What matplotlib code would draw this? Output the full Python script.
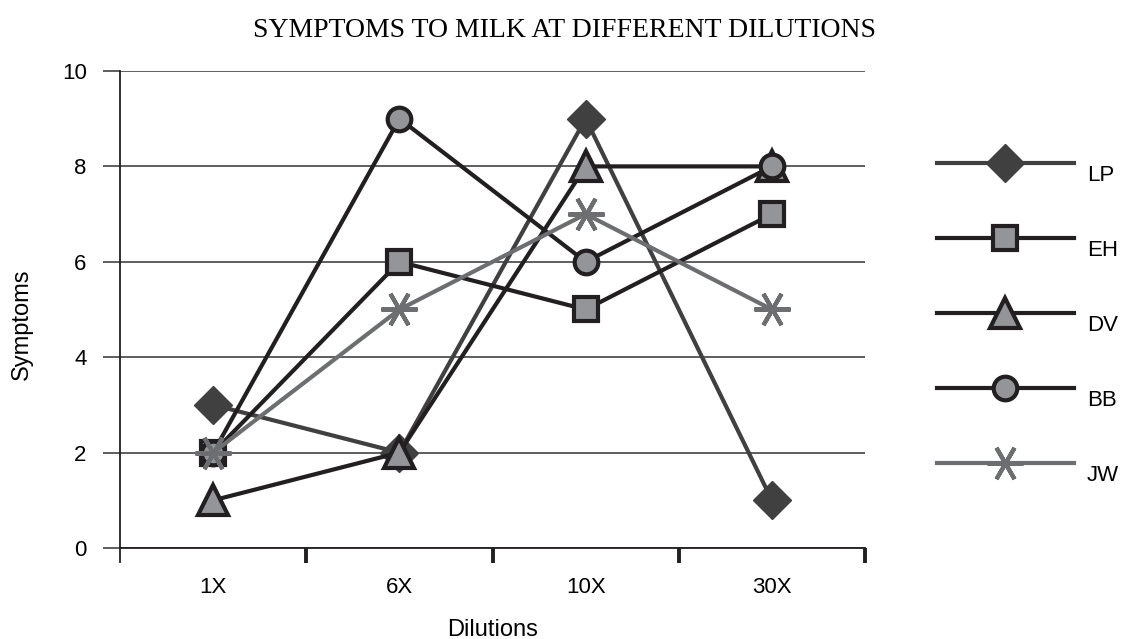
import numpy as np
import matplotlib.pyplot as plt
from matplotlib.ticker import FixedLocator, NullFormatter
from matplotlib.legend_handler import HandlerLine2D

DILUTIONS = ['1X', '6X', '10X', '30X']
LP = [3, 2, 9, 1]
EH = [2, 6, 5, 7]
DV = [1, 2, 8, 8]
BB = [2, 9, 6, 8]
JW = [2, 5, 7, 5]

DARK = '#231f20'
FILL = '#939598'

plt.rcParams['font.family'] = ['Liberation Sans', 'DejaVu Sans']


class RaisedLine(HandlerLine2D):
    # Excel-like legend: sample line sits a little above the label text
    def create_artists(self, legend, orig_handle, xdescent, ydescent,
                       width, height, fontsize, trans):
        return super().create_artists(legend, orig_handle, xdescent,
                                      ydescent - 14, width, height,
                                      fontsize, trans)


fig = plt.figure(figsize=(11.22, 6.39), dpi=100)
ax = fig.add_axes([0.107, 0.1424, 0.664, 0.7465])

x = np.arange(len(DILUTIONS))
ax.plot(x, LP, color='#404041', lw=3, marker='D', ms=19,
        mfc='#404041', mec='#404041', mew=1, label='LP', zorder=3)
ax.plot(x, EH, color=DARK, lw=3, marker='s', ms=17,
        mfc=FILL, mec=DARK, mew=3, label='EH', zorder=3)
ax.plot(x, DV, color=DARK, lw=3, marker='^', ms=22,
        mfc=FILL, mec=DARK, mew=3, label='DV', zorder=3)
ax.plot(x, BB, color=DARK, lw=3, marker='o', ms=17,
        mfc=FILL, mec=DARK, mew=3, label='BB', zorder=3)
ax.plot(x, JW, color='#6d6e71', lw=3, marker=(6, 2, 90), ms=26,
        mfc='#6d6e71', mec='#6d6e71', mew=3, label='JW', zorder=3)

ax.set_xlim(-0.5, 3.5)
ax.set_ylim(0, 10)
ax.set_yticks([0, 2, 4, 6, 8, 10])
ax.grid(axis='y', color='#333333', lw=1.1)
ax.set_axisbelow(True)

for s in ['top', 'right']:
    ax.spines[s].set_visible(False)
ax.spines['left'].set_bounds(-0.3, 10)
ax.spines['left'].set_color(DARK)
ax.spines['left'].set_linewidth(1.3)
ax.spines['bottom'].set_color(DARK)
ax.spines['bottom'].set_linewidth(1.3)

# category boundaries as major ticks, category names on minor ticks
ax.xaxis.set_major_locator(FixedLocator([-0.5, 0.5, 1.5, 2.5, 3.5]))
ax.xaxis.set_major_formatter(NullFormatter())
ax.xaxis.set_minor_locator(FixedLocator(x))
ax.set_xticklabels(DILUTIONS, minor=True)
ax.tick_params(axis='x', which='major', direction='out', length=11,
               width=2.8, color=DARK)
ax.tick_params(axis='x', which='minor', length=0, pad=21, labelsize=16)
ax.xaxis.get_major_ticks()[0].tick1line.set_visible(False)
ax.tick_params(axis='y', direction='out', length=12, width=1.1,
               color='#333333', pad=12, labelsize=16)

ax.set_xlabel('Dilutions', fontsize=17)
ax.xaxis.set_label_coords(0.5, -0.148)
ax.set_ylabel('Symptoms', fontsize=17)
ax.yaxis.set_label_coords(-0.117, 0.47)
fig.text(0.503, 0.952, 'SYMPTOMS TO MILK AT DIFFERENT DILUTIONS',
         ha='center', va='center', fontsize=20, family='Liberation Serif')

fig.legend(loc='upper left', bbox_to_anchor=(0.835, 0.742), frameon=False,
           handlelength=6.16, labelspacing=2.43, fontsize=16,
           handletextpad=0.6, borderpad=0, borderaxespad=0,
           handler_map={plt.Line2D: RaisedLine()})

fig.savefig('out.png', dpi=100)
